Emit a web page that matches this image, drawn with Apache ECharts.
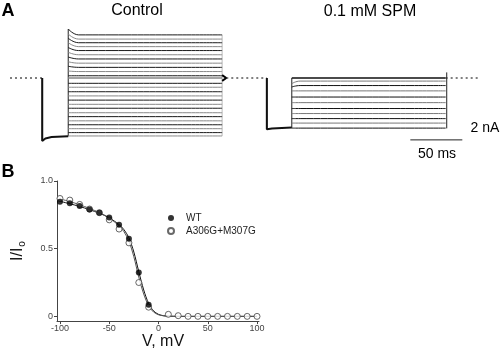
<!DOCTYPE html>
<html>
<head>
<meta charset="UTF-8">
<title></title>
<style type="text/css">
	html, body { margin: 0; padding: 0; background: #fff; }
	.chart { width: 500px; height: 351px; }
</style>
</head>
<body>
<div class="chart"></div>
<script src="https://cdn.jsdelivr.net/npm/echarts@6.0.0/dist/echarts.min.js"></script>
<script type="text/javascript">
// ---- panel A : current traces (time in ms, current in nA) ----
// holding, prepulse start, test start, decay settled, test end, tail end
var ctrlTimes = [0, 31, 56, 66, 204, 208];
// SPM sweep: prepulse start, test start, decay settled, test end, record end
var spmTimes = [247, 271, 279, 419, 452];

var ctrlPrepulse = [[31, -2.25], [34, -2.16], [40, -2.11], [56, -2.08]];
var ctrlPeak = [1.75, 1.57, 1.42, 1.26, 1.09, 0.92, 0.75, 0.58, 0.42, 0.25, 0.08, 0,
	-0.19, -0.33, -0.49, -0.64, -0.79, -0.94, -1.08, -1.24, -1.38, -1.53, -1.67, -1.81, -1.95, -2.07];
var ctrlSteady = [1.54, 1.39, 1.26, 1.12, 0.98, 0.83, 0.68, 0.53, 0.38, 0.23, 0.08, 0,
	-0.19, -0.33, -0.49, -0.64, -0.79, -0.94, -1.08, -1.24, -1.38, -1.53, -1.67, -1.81, -1.95, -2.07];
var ctrlTail = [0.1, 0, -0.1];

var spmPrepulse = [[247, -1.83], [252, -1.8], [271, -1.77]];
var spmStart = [0, -0.2, -0.32, -0.46, -0.68, -0.88, -1.09, -1.27, -1.45, -1.61, -1.79];
var spmSteady = [0, -0.11, -0.27, -0.46, -0.68, -0.88, -1.09, -1.27, -1.45, -1.61, -1.79];

var barTime = [385, 435];      // 50 ms
var barTimeLevel = -2.21;
var barCurrent = [0.2, -1.8];  // 2 nA
var barCurrentTime = 420;

// ---- panel B : I/Io vs V ----
var wtV = [-100, -90, -80, -70, -60, -50, -40, -30, -20, -10];
var wtI = [0.847, 0.835, 0.815, 0.79, 0.765, 0.73, 0.676, 0.574, 0.324, 0.085];
var mutV = [-100, -90, -80, -70, -60, -50, -40, -30, -20, -10, 10, 20, 30, 40, 50, 60, 70, 80, 90, 100];
var mutI = [0.871, 0.859, 0.827, 0.793, 0.766, 0.713, 0.645, 0.543, 0.25, 0.068, 0.015, 0.005, 0, 0, 0, 0, 0, 0, 0, 0];

var fitV = [-100, -90, -80, -70, -60, -50, -40, -35, -30, -25, -20, -15, -10, -5, 0, 5, 10, 20, 40, 60, 80, 100];
var fitWT = [0.85, 0.832, 0.812, 0.788, 0.762, 0.728, 0.678, 0.64, 0.58, 0.475, 0.33, 0.195, 0.095, 0.04, 0.015, 0.005, 0.002, 0, 0, 0, 0, 0];
var fitMut = [0.868, 0.848, 0.825, 0.797, 0.767, 0.727, 0.668, 0.625, 0.555, 0.44, 0.29, 0.165, 0.078, 0.032, 0.012, 0.004, 0.001, 0, 0, 0, 0, 0];

var xTicks = [-100, -50, 0, 50, 100];
var yTicks = [0, 0.5, 1.0];

var FONT = 'Liberation Sans, Arial, sans-serif';

function zip(xs, ys) {
	return xs.map(function(x, i) { return [x, ys[i]]; });
}

function traceLine(data, color, width, extra) {
	var s = {
		type: 'line',
		xAxisIndex: 0,
		yAxisIndex: 0,
		data: data,
		showSymbol: false,
		symbol: 'none',
		silent: true,
		lineStyle: { color: color, width: width },
		z: 2
	};
	for (var k in extra) s[k] = extra[k];
	return s;
}

var series = [];

// dotted zero line
series.push(traceLine([
	[ctrlTimes[0], 0], [ctrlTimes[1], 0], [ctrlTimes[1], '-'],
	[ctrlTimes[5], 0], [spmTimes[0], 0], [spmTimes[0], '-'],
	[spmTimes[3], 0], [spmTimes[4], 0]
], '#000', 1, { lineStyle: { color: '#000', width: 1, type: [2, 3] } }));

// control: step down, prepulse, rising edge
series.push(traceLine([[ctrlTimes[1], 0]].concat(ctrlPrepulse), '#111', 2));
series.push(traceLine([[ctrlTimes[1], 0], ctrlPrepulse[0]], '#111', 1));
series.push(traceLine([[ctrlTimes[2], ctrlPrepulse[ctrlPrepulse.length - 1][1]], [ctrlTimes[2], ctrlPeak[0]]], '#222', 1));
series.push(traceLine([[ctrlTimes[4], ctrlSteady[0]], [ctrlTimes[4], ctrlSteady[ctrlSteady.length - 1]]], '#bbb', 1));

ctrlSteady.forEach(function(v, i) {
	series.push(traceLine([
		[ctrlTimes[2], ctrlPeak[i]],
		[ctrlTimes[3], v],
		[ctrlTimes[4], v]
	], i % 2 ? '#888' : '#1a1a1a', i === 11 ? 1.5 : 1, { smooth: 0.5, smoothMonotone: 'x' }));
});

// tail arrow
series.push(traceLine([
	[ctrlTimes[4], ctrlTail[0]], [ctrlTimes[5], ctrlTail[1]], [ctrlTimes[4], ctrlTail[2]]
], '#000', 2));

// SPM: step down, prepulse, rising edge
series.push(traceLine([[spmTimes[0], 0]].concat(spmPrepulse), '#111', 2));
series.push(traceLine([[spmTimes[0], 0], spmPrepulse[0]], '#111', 1));
series.push(traceLine([[spmTimes[1], spmSteady[spmSteady.length - 1]], [spmTimes[1], 0]], '#222', 1));

spmSteady.forEach(function(v, i) {
	series.push(traceLine([
		[spmTimes[1], spmStart[i]],
		[spmTimes[2], v],
		[spmTimes[3], v]
	], i % 2 ? '#777' : '#111', i === 0 ? 1.5 : 1, { smooth: 0.5, smoothMonotone: 'x' }));
});

// scale bars
series.push(traceLine([[barCurrentTime, barCurrent[0]], [barCurrentTime, barCurrent[1]]], '#222', 1));
series.push(traceLine([[barTime[0], barTimeLevel], [barTime[1], barTimeLevel]], '#222', 1));

// panel B fits and points
series.push({
	type: 'line', name: 'fit WT', xAxisIndex: 1, yAxisIndex: 1,
	data: zip(fitV, fitWT), smooth: 0.3, showSymbol: false, symbol: 'none', silent: true,
	lineStyle: { color: '#111', width: 1 }
});
series.push({
	type: 'line', name: 'fit mut', xAxisIndex: 1, yAxisIndex: 1,
	data: zip(fitV, fitMut), smooth: 0.3, showSymbol: false, symbol: 'none', silent: true,
	lineStyle: { color: '#555', width: 1 }
});
series.push({
	type: 'scatter', name: 'WT', xAxisIndex: 1, yAxisIndex: 1,
	data: zip(wtV, wtI), symbol: 'circle', symbolSize: 6, silent: true,
	itemStyle: { color: '#000' }, z: 4
});
series.push({
	type: 'scatter', name: 'A306G+M307G', xAxisIndex: 1, yAxisIndex: 1,
	data: zip(mutV, mutI), symbol: 'circle', symbolSize: 6, silent: true,
	itemStyle: { color: '#fff', borderColor: '#444', borderWidth: 1 }, z: 3
});

function label(text, x, y, size, weight) {
	return {
		type: 'text', x: x, y: y, silent: true,
		style: {
			text: text, fill: '#000', align: 'center', verticalAlign: 'middle',
			font: (weight || 'normal') + ' ' + size + 'px ' + FONT
		}
	};
}

var option = {
	animation: false,
	backgroundColor: '#fff',
	graphic: [
		label('A', 8, 11, 18, 'bold'),
		label('Control', 137, 11, 16),
		label('0.1 mM SPM', 370, 12, 16),
		label('2 nA', 485, 128, 14),
		label('50 ms', 437, 154, 14),
		label('B', 8, 172, 18, 'bold')
	],
	legend: {
		orient: 'vertical',
		left: 162,
		top: 208,
		itemWidth: 20,
		itemHeight: 6,
		itemGap: 3,
		data: ['WT', 'A306G+M307G'],
		textStyle: { fontSize: 10, color: '#222', fontFamily: FONT },
		selectedMode: false
	},
	grid: [
		{ left: 10, top: 22, width: 470, height: 140 },
		{ left: 57, top: 181, width: 202, height: 142 }
	],
	xAxis: [
		{ gridIndex: 0, type: 'value', min: 0, max: 452, show: false },
		{
			gridIndex: 1, type: 'value', min: -103, max: 102,
			splitLine: { show: false },
			axisLine: { onZero: false, lineStyle: { color: '#444' } },
			axisTick: { length: 3, lineStyle: { color: '#444' }, customValues: xTicks },
			axisLabel: { customValues: xTicks, margin: 3, fontSize: 9, color: '#444', fontFamily: FONT },
			name: 'V, mV', nameLocation: 'middle', nameGap: 12,
			nameTextStyle: { fontSize: 16, color: '#111', fontFamily: FONT, padding: [0, 0, 0, 10] }
		}
	],
	yAxis: [
		{ gridIndex: 0, type: 'value', min: -3, max: 2, show: false },
		{
			gridIndex: 1, type: 'value', min: -0.035, max: 1.0,
			splitLine: { show: false },
			axisLine: { show: true, onZero: false, lineStyle: { color: '#444' } },
			axisTick: { show: true, length: 3, lineStyle: { color: '#444' }, customValues: yTicks },
			axisLabel: {
				customValues: yTicks, margin: 4, fontSize: 9, color: '#444', fontFamily: FONT,
				formatter: function(v) { return v === 0 ? '0' : v.toFixed(1); }
			},
			name: 'I/I{s|o}', nameLocation: 'middle', nameGap: 30,
			nameTextStyle: {
				fontSize: 16, color: '#111', fontFamily: FONT,
				rich: { s: { fontSize: 10, color: '#111', fontFamily: FONT, padding: [9, 0, 0, 1] } }
			}
		}
	],
	series: series
};

var chart = echarts.init(document.querySelector('.chart'));
chart.setOption(option);
</script>
</body>
</html>
